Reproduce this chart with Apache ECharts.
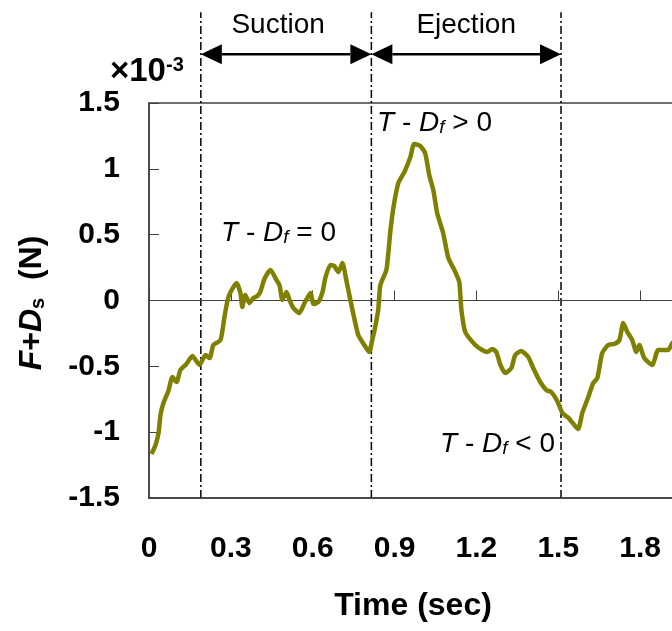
<!DOCTYPE html>
<html>
<head>
<meta charset="utf-8">
<script src="https://cdn.jsdelivr.net/npm/echarts@6/dist/echarts.min.js"></script>
<style>
  html, body { margin: 0; padding: 0; background: #fff; }
  #chart { width: 672px; height: 631px; }
</style>
</head>
<body>
<div id="chart"></div>
<script>
// 时间 (sec)
const timeSec = [
  0.009, 0.024, 0.035, 0.042, 0.053, 0.071, 0.086, 0.101, 0.115, 0.137,
  0.159, 0.185, 0.207, 0.222, 0.236, 0.262, 0.276, 0.288, 0.299, 0.321,
  0.335, 0.342, 0.353, 0.368, 0.383, 0.397, 0.408, 0.423, 0.445, 0.467,
  0.478, 0.489, 0.504, 0.515, 0.529, 0.551, 0.570, 0.592, 0.603, 0.621,
  0.636, 0.647, 0.665, 0.679, 0.694, 0.709, 0.723, 0.738, 0.752, 0.767,
  0.789, 0.807, 0.818, 0.826, 0.840, 0.848, 0.870, 0.885, 0.896, 0.914,
  0.936, 0.958, 0.972, 0.994, 1.012, 1.027, 1.042, 1.056, 1.078, 1.097,
  1.119, 1.137, 1.145, 1.159, 1.196, 1.221, 1.240, 1.258, 1.273, 1.288,
  1.306, 1.328, 1.342, 1.364, 1.390, 1.408, 1.434, 1.456, 1.474, 1.496,
  1.515, 1.537, 1.559, 1.573, 1.588, 1.610, 1.628, 1.643, 1.661, 1.683,
  1.705, 1.724, 1.738, 1.753, 1.771, 1.786, 1.797, 1.815, 1.844, 1.866,
  1.885, 1.903, 1.918, 1.935
];
// F + Ds (x10^-3 N)
const forceVals = [
  -1.166, -1.097, -1.006, -0.870, -0.778, -0.687, -0.581, -0.619, -0.528, -0.482,
  -0.421, -0.490, -0.414, -0.437, -0.338, -0.300, -0.133, 0.004, 0.065, 0.133,
  0.057, -0.049, 0.042, -0.019, 0.019, 0.034, 0.065, 0.163, 0.232, 0.156,
  0.118, 0.004, 0.065, 0.004, -0.057, -0.095, -0.019, 0.057, -0.027, -0.011,
  0.065, 0.178, 0.270, 0.262, 0.216, 0.285, 0.156, 0.004, -0.133, -0.262,
  -0.338, -0.391, -0.300, -0.232, -0.072, 0.118, 0.232, 0.535, 0.710, 0.893,
  0.976, 1.090, 1.189, 1.173, 1.120, 0.953, 0.839, 0.665, 0.513, 0.323,
  0.232, 0.141, -0.072, -0.239, -0.338, -0.376, -0.391, -0.368, -0.391, -0.490,
  -0.551, -0.513, -0.414, -0.384, -0.429, -0.513, -0.619, -0.680, -0.695, -0.763,
  -0.854, -0.892, -0.946, -0.976, -0.854, -0.733, -0.627, -0.589, -0.399, -0.338,
  -0.330, -0.300, -0.171, -0.239, -0.300, -0.391, -0.338, -0.437, -0.490, -0.376,
  -0.376, -0.376, -0.323, -0.290
];
// 阶段分界 (sec)
const phaseBounds = [0.19, 0.815, 1.51];
const phaseNames = ['Suction', 'Ejection'];

const FONT = 'Liberation Sans, Arial, sans-serif';
const AXIS_COLOR = '#404040';

const chart = echarts.init(document.getElementById('chart'));
chart.setOption({
  backgroundColor: '#fff',
  animation: false,
  grid: {
    left: 149, top: 103, width: 573, bottom: 133,
    outerBoundsMode: 'none',
    show: true, borderColor: AXIS_COLOR, borderWidth: 1.5
  },
  xAxis: [{
    type: 'value',
    min: 0, max: 2.1, interval: 0.3,
    position: 'bottom',
    axisLine: { onZero: false, lineStyle: { color: AXIS_COLOR, width: 1.5 } },
    axisTick: { show: false },
    splitLine: { show: false },
    axisLabel: { color: '#000', fontSize: 30, fontWeight: 'bold', fontFamily: FONT, margin: 36 }
  }, {
    // 零线
    type: 'value',
    min: 0, max: 2.1, interval: 0.3,
    position: 'bottom',
    axisLine: { onZero: true, lineStyle: { color: AXIS_COLOR, width: 1 } },
    axisTick: { inside: true, length: 10, lineStyle: { color: AXIS_COLOR, width: 1 } },
    splitLine: { show: false },
    axisLabel: { show: false }
  }],
  yAxis: {
    type: 'value',
    min: -1.5, max: 1.5, interval: 0.5,
    axisLine: { show: true, onZero: false, lineStyle: { color: AXIS_COLOR, width: 1.5 } },
    axisTick: { inside: true, length: 10, lineStyle: { color: AXIS_COLOR, width: 1 } },
    splitLine: { show: false },
    axisLabel: { color: '#000', fontSize: 30, fontWeight: 'bold', fontFamily: FONT, margin: 29 }
  },
  series: [{
    type: 'line',
    data: timeSec.map((t, i) => [t, forceVals[i]]),
    showSymbol: false,
    smooth: 0.2,
    lineStyle: { color: '#808000', width: 4.5 },
    itemStyle: { color: '#808000' }
  }]
});

// 注释：分界线、箭头、文字
const px = t => chart.convertToPixel({ xAxisIndex: 0 }, t);
const py = v => chart.convertToPixel({ yAxisIndex: 0 }, v);
const arrowY = py(1.87);
const headLen = 21, headHalf = 10;
const graphics = [];

phaseBounds.forEach(b => {
  graphics.push({
    type: 'line',
    shape: { x1: px(b), y1: py(-1.5), x2: px(b), y2: py(2.19) },
    style: { stroke: '#000', lineWidth: 1.5, lineDash: [8, 3, 2, 3] }
  });
});

phaseNames.forEach((name, i) => {
  const x1 = px(phaseBounds[i]), x2 = px(phaseBounds[i + 1]);
  graphics.push({
    type: 'line',
    shape: { x1: x1 + headLen, y1: arrowY, x2: x2 - headLen, y2: arrowY },
    style: { stroke: '#000', lineWidth: 2.5 }
  });
  graphics.push({
    type: 'polygon',
    shape: { points: [[x1, arrowY], [x1 + headLen, arrowY - headHalf], [x1 + headLen, arrowY + headHalf]] },
    style: { fill: '#000' }
  });
  graphics.push({
    type: 'polygon',
    shape: { points: [[x2, arrowY], [x2 - headLen, arrowY - headHalf], [x2 - headLen, arrowY + headHalf]] },
    style: { fill: '#000' }
  });
  graphics.push({
    type: 'text',
    x: (x1 + x2) / 2 - (i === 0 ? 8 : 0), y: 25,
    style: {
      text: name, fill: '#000',
      fontSize: 28, fontFamily: FONT,
      align: 'center', verticalAlign: 'middle',
      textAlign: 'center', textVerticalAlign: 'middle'
    }
  });
});

const noteRich = {
  i: { fontStyle: 'italic', fontSize: 28, fontFamily: FONT },
  s: { fontStyle: 'italic', fontSize: 19, fontFamily: FONT, lineHeight: 12, verticalAlign: 'bottom' }
};
const notes = [
  { text: '{i|T} - {i|D}{s|f} = 0', x: 221, y: 233 },
  { text: '{i|T} - {i|D}{s|f} > 0', x: 377, y: 123 },
  { text: '{i|T} - {i|D}{s|f} < 0', x: 440, y: 444 }
];
notes.forEach(n => {
  graphics.push({
    type: 'text', x: n.x, y: n.y,
    style: {
      text: n.text, fill: '#000', fontSize: 28, fontFamily: FONT,
      align: 'left', verticalAlign: 'middle',
      textAlign: 'left', textVerticalAlign: 'middle',
      rich: noteRich
    }
  });
});

// 坐标轴标题
graphics.push({
  type: 'text', x: 413, y: 606,
  style: {
    text: 'Time (sec)', fill: '#000', fontSize: 32, fontWeight: 'bold', fontFamily: FONT,
    align: 'center', verticalAlign: 'middle', textAlign: 'center', textVerticalAlign: 'middle'
  }
});
graphics.push({
  type: 'text', x: 32, y: 303, rotation: Math.PI / 2,
  style: {
    text: '{i|F}{b|+}{i|D}{s|s}{b|  (N)}', fill: '#000',
    fontSize: 32, fontWeight: 'bold', fontFamily: FONT,
    align: 'center', verticalAlign: 'middle', textAlign: 'center', textVerticalAlign: 'middle',
    rich: {
      i: { fontStyle: 'italic', fontWeight: 'bold', fontSize: 32, fontFamily: FONT },
      b: { fontWeight: 'bold', fontSize: 32, fontFamily: FONT },
      s: { fontWeight: 'bold', fontSize: 20, fontFamily: FONT, lineHeight: 12, verticalAlign: 'bottom' }
    }
  }
});
graphics.push({
  type: 'text', x: 110, y: 72,
  style: {
    text: '{b|×10}{p|-3}', fill: '#000',
    fontSize: 33, fontWeight: 'bold', fontFamily: FONT,
    align: 'left', verticalAlign: 'middle', textAlign: 'left', textVerticalAlign: 'middle',
    rich: {
      b: { fontWeight: 'bold', fontSize: 33, fontFamily: FONT },
      p: { fontWeight: 'bold', fontSize: 20, fontFamily: FONT, lineHeight: 12, verticalAlign: 'top' }
    }
  }
});

chart.setOption({ graphic: graphics });
</script>
</body>
</html>
